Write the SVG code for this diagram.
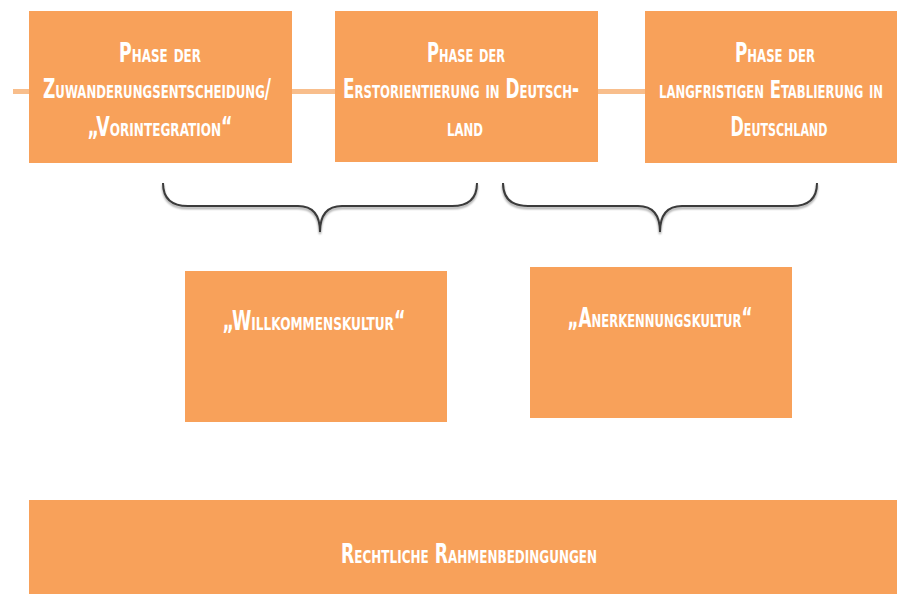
<svg xmlns="http://www.w3.org/2000/svg" width="897" height="594" viewBox="0 0 897 594">
<style>
.box{fill:#F8A15A}
.t{font-family:"DejaVu Sans Condensed","DejaVu Sans",sans-serif;font-weight:bold;font-variant:small-caps;font-size:26px;fill:#ffffff;text-anchor:middle}
.line{stroke:#F8BE8C;stroke-width:5;fill:none}
.brace{stroke:#3a3a3a;stroke-width:2;fill:none}
</style>
<defs>
<filter id="sh" x="-5%" y="-20%" width="110%" height="160%">
<feGaussianBlur in="SourceAlpha" stdDeviation="1"/>
<feOffset dx="0" dy="1.5" result="b"/>
<feComponentTransfer><feFuncA type="linear" slope="0.4"/></feComponentTransfer>
<feMerge><feMergeNode/><feMergeNode in="SourceGraphic"/></feMerge>
</filter>
</defs>
<rect width="897" height="594" fill="#ffffff"/>
<g id="connectors">
<line class="line" x1="13" y1="91.5" x2="897" y2="91.5"/>
<path class="brace" filter="url(#sh)" d="M163,183 Q163,206 188,206 L298,206 Q320,206 320,232 Q320,206 342,206 L452,206 Q477,206 477,183"/>
<path class="brace" filter="url(#sh)" d="M503,183 Q503,206 528,206 L638,206 Q660,206 660,232 Q660,206 682,206 L792,206 Q817,206 817,183"/>
</g>
<g id="phase1">
<rect class="box" x="29" y="11" width="263" height="152"/>
<text class="t" x="160" y="62" textLength="82" lengthAdjust="spacingAndGlyphs">Phase der</text>
<text class="t" x="157" y="98" textLength="228" lengthAdjust="spacingAndGlyphs">Zuwanderungsentscheidung/</text>
<text class="t" x="160" y="136" textLength="145" lengthAdjust="spacingAndGlyphs">„Vorintegration“</text>
</g>
<g id="phase2">
<rect class="box" x="335" y="11" width="263" height="151"/>
<text class="t" x="466" y="62" textLength="78" lengthAdjust="spacingAndGlyphs">Phase der</text>
<text class="t" x="461" y="98" textLength="236" lengthAdjust="spacingAndGlyphs">Erstorientierung in Deutsch-</text>
<text class="t" x="465" y="136" textLength="36" lengthAdjust="spacingAndGlyphs">land</text>
</g>
<g id="phase3">
<rect class="box" x="645" y="11" width="252" height="152"/>
<text class="t" x="775" y="62" textLength="80" lengthAdjust="spacingAndGlyphs">Phase der</text>
<text class="t" x="771" y="98" textLength="224" lengthAdjust="spacingAndGlyphs" style="font-size:24px">langfristigen Etablierung in</text>
<text class="t" x="779" y="136" textLength="97" lengthAdjust="spacingAndGlyphs">Deutschland</text>
</g>
<g id="willkommen">
<rect class="box" x="185" y="271" width="262" height="151"/>
<text class="t" x="314" y="330" textLength="183" lengthAdjust="spacingAndGlyphs">„Willkommenskultur“</text>
</g>
<g id="anerkennung">
<rect class="box" x="530" y="267" width="262" height="151"/>
<text class="t" x="660" y="327" textLength="185" lengthAdjust="spacingAndGlyphs">„Anerkennungskultur“</text>
</g>
<g id="rahmen">
<rect class="box" x="29" y="500" width="868" height="94"/>
<text class="t" x="469" y="563" textLength="256" lengthAdjust="spacingAndGlyphs">Rechtliche Rahmenbedingungen</text>
</g>
</svg>
